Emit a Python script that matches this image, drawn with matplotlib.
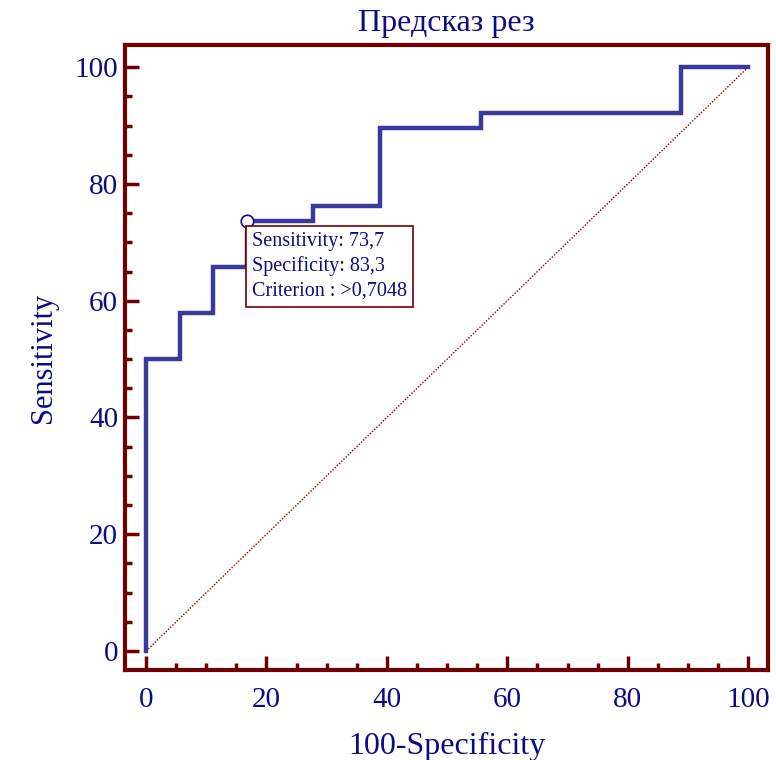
import matplotlib
matplotlib.use("Agg")
import matplotlib.pyplot as plt
import numpy as np
from matplotlib.ticker import MultipleLocator

plt.rcParams['font.family'] = ['Liberation Serif', 'DejaVu Serif']

# ROC step curve (100-Specificity, Sensitivity)
fpr = [0, 0, 5.56, 5.56, 11.1, 11.1, 16.7, 16.7, 27.8, 27.8, 38.9, 38.9, 55.6, 55.6, 88.9, 88.9, 100]
tpr = [0, 50.0, 50.0, 57.9, 57.9, 65.8, 65.8, 73.7, 73.7, 76.3, 76.3, 89.5, 89.5, 92.1, 92.1, 100, 100]
opt_x, opt_y = 16.7, 73.7
annot_lines = ["Sensitivity: 73,7", "Specificity: 83,3", "Criterion : >0,7048"]
title = "Предсказ рез"
xlabel = "100-Specificity"
ylabel = "Sensitivity"

navy = "#0c0c80"
curve = "#3a3a9c"
frame = "#700000"

fig = plt.figure(figsize=(7.76, 7.60), dpi=100)
ax = fig.add_axes([125/776, 1-670/760, (768-125)/776, (670-45)/760])

ax.plot([0, 100], [0, 100], color="#8b0000", lw=1.0, ls=(0, (1, 1.2)), zorder=2)
ax.plot(fpr, tpr, color=curve, lw=3.2, solid_joinstyle='miter', zorder=3)
ax.plot([opt_x], [opt_y], marker='o', ms=9, mfc='white', mec=navy, mew=1.2, zorder=4)

ax.text(opt_x + 0.9, opt_y - 1.9, "\n".join(annot_lines), fontsize=14.5, color=navy,
        va='top', ha='left', linespacing=1.38, zorder=5,
        bbox=dict(boxstyle='square,pad=0.3', fc='white', ec=frame, lw=1.2))

ax.set_xlim(-3.5, 103.3)
ax.set_ylim(-3.25, 103.8)
ax.xaxis.set_major_locator(MultipleLocator(20))
ax.xaxis.set_minor_locator(MultipleLocator(5))
ax.yaxis.set_major_locator(MultipleLocator(20))
ax.yaxis.set_minor_locator(MultipleLocator(5))

for s in ax.spines.values():
    s.set_color(frame)
    s.set_linewidth(3)
ax.tick_params(which='both', direction='in', color=frame, top=False, right=False,
               labelcolor=navy, labelsize=21, width=2.5)
ax.tick_params(which='major', length=10)
ax.tick_params(axis='y', which='major', pad=5)
ax.tick_params(axis='x', which='major', pad=12)
ax.tick_params(which='minor', length=5)

ax.set_title(title, color=navy, fontsize=23, pad=10)
ax.set_xlabel(xlabel, color=navy, fontsize=23, labelpad=14)
ax.set_ylabel(ylabel, color=navy, fontsize=22, labelpad=12)

fig.savefig("out.png", dpi=100)
